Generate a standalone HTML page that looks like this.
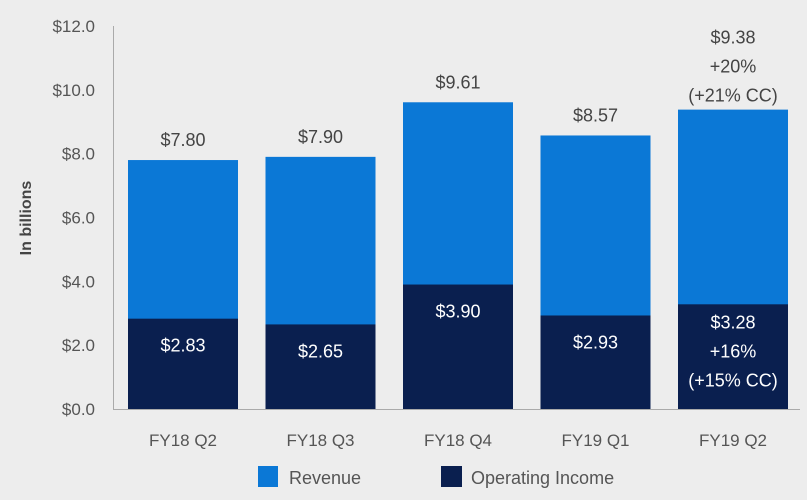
<!DOCTYPE html>
<html><head><meta charset="utf-8"><style>
body{margin:0;background:#ededed;font-family:"Liberation Sans",sans-serif;}
svg{display:block}
</style></head><body>
<svg width="807" height="500">
<rect width="807" height="500" fill="#ededed"/>
<g id="g"></g>
</svg>
<script>
const categories=["FY18 Q2","FY18 Q3","FY18 Q4","FY19 Q1","FY19 Q2"];
const revenue=[7.80,7.90,9.61,8.57,9.38];
const opIncome=[2.83,2.65,3.90,2.93,3.28];
const revLabels=[["$7.80"],["$7.90"],["$9.61"],["$8.57"],["$9.38","+20%","(+21% CC)"]];
const opLabels=[["$2.83"],["$2.65"],["$3.90"],["$2.93"],["$3.28","+16%","(+15% CC)"]];
const yTicks=[0,2,4,6,8,10,12];
const yTickLabels=["$0.0","$2.0","$4.0","$6.0","$8.0","$10.0","$12.0"];
const NS="http://www.w3.org/2000/svg";
const g=document.getElementById('g');
const y0=409,yTop=26,yMax=12;
const y=v=>y0-(v/yMax)*(y0-yTop);
const x=i=>128+i*137.5;
const bw=110;
function mk(t,a,txt){const e=document.createElementNS(NS,t);for(const k in a)e.setAttribute(k,a[k]);if(txt!=null)e.textContent=txt;g.appendChild(e);return e;}
yTicks.forEach((v,i)=>{
 const t=mk('text',{x:95,y:y(v)+6,'text-anchor':'end','font-size':17,fill:'#555'},yTickLabels[i]);
 
 
});
const yt=mk('text',{transform:'translate(31,218) rotate(-90)','text-anchor':'middle','font-size':16,'font-weight':'bold',fill:'#444'},'In billions');


categories.forEach((c,i)=>{
 const r=mk('rect',{x:x(i),y:y(revenue[i]),width:bw,height:y0-y(revenue[i]),fill:'#0b78d6'});
 
 
 const o=mk('rect',{x:x(i),y:y(opIncome[i]),width:bw,height:y0-y(opIncome[i]),fill:'#0a1f4f'});
 
 
 const cx=x(i)+bw/2;
 const rl=revLabels[i];
 const rOff=rl.length>1?8:14;
 rl.forEach((s,j)=>{
  const t=mk('text',{x:cx,y:y(revenue[i])-rOff-(rl.length-1-j)*29,'text-anchor':'middle','font-size':18,fill:'#444'},s);
  
  
 });
 const ol=opLabels[i];
 const oOff=ol.length>1?24:33;
 ol.forEach((s,j)=>{
  const t=mk('text',{x:cx,y:y(opIncome[i])+oOff+j*29,'text-anchor':'middle','font-size':18,fill:'#fff'},s);
  
  
 });
 const cl=mk('text',{x:cx,y:446,'text-anchor':'middle','font-size':17,fill:'#555'},c);
 
 
});
const ax=mk('path',{d:`M113.5 ${yTop} V${y0+0.5} H800`,stroke:'#aaa','stroke-width':1,fill:'none'});


const l1=mk('rect',{x:258,y:466,width:20,height:21,fill:'#0b78d6'});


const l1t=mk('text',{x:289,y:484,'font-size':18,fill:'#555'},'Revenue');


const l2=mk('rect',{x:441,y:466,width:21,height:21,fill:'#0a1f4f'});


const l2t=mk('text',{x:471,y:484,'font-size':18,fill:'#555'},'Operating Income');


</script>
</body></html>
